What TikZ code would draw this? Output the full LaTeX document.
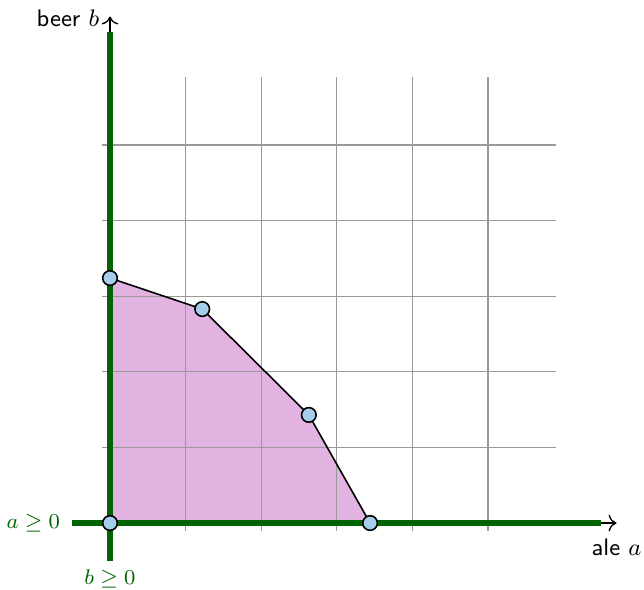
\documentclass[tikz,border=0pt]{standalone}
\usepackage{amssymb}
\usetikzlibrary{arrows.meta}
\begin{document}
\begin{tikzpicture}[x=1cm,y=1cm,
  gridline/.style={gray!80, line width=0.5pt},
  axisline/.style={line width=0.5pt, -{To[length=3pt]}},
  constraint/.style={line width=2.4pt, color=consgreen},
  vertex/.style={circle, draw=black, fill=ptblue, line width=0.6pt, inner sep=0pt, minimum size=5.5pt},
  lbl/.style={font=\fontsize{9}{11}\selectfont\sffamily},
  glbl/.style={font=\fontsize{8}{10}\selectfont, text=consgreen, inner sep=1pt}]
\definecolor{consgreen}{RGB}{0,100,0}
\definecolor{ptblue}{RGB}{166,206,234}
\definecolor{regionfill}{RGB}{226,178,224}
\useasboundingbox (-1.455,-0.873) rectangle (7.063,6.918);
% feasible region
\coordinate (p0) at (0,0);
\coordinate (p1) at (0,3.24);
\coordinate (p2) at (1.22,2.83);
\coordinate (p3) at (2.63,1.43);
\coordinate (p4) at (3.44,0);
\fill[regionfill] (p0) -- (p1) -- (p2) -- (p3) -- (p4) -- cycle;
% grid
\draw[gridline] (-0.1,-0.1) grid (5.9,5.9);
% axes
\coordinate (xs) at (-0.5,0);
\coordinate (xe) at (6.7,0);
\coordinate (ys) at (0,-0.5);
\coordinate (ye) at (0,6.7);
\draw[axisline] (xs) -- (xe);
\draw[axisline] (ys) -- (ye);
\draw[constraint] (-0.5,0) -- (6.5,0);
\draw[constraint] (0,-0.5) -- (0,6.5);
% boundary
\draw[line width=0.6pt] (p1) -- (p2) -- (p3) -- (p4);
\node[vertex] (v0) at (p0) {};
\node[vertex] (v1) at (p1) {};
\node[vertex] (v2) at (p2) {};
\node[vertex] (v3) at (p3) {};
\node[vertex] (v4) at (p4) {};
% labels
\node[lbl, anchor=east] (ylab) at (-0.02,6.68) {beer $b$};
\node[lbl, anchor=north] (xlab) at (6.7,-0.08) {ale $a$};
\node[glbl, anchor=east] (ca) at (-0.62,0) {$a \geq 0$};
\node[glbl, anchor=north] (cb) at (0,-0.58) {$b \geq 0$};
\end{tikzpicture}
\end{document}
